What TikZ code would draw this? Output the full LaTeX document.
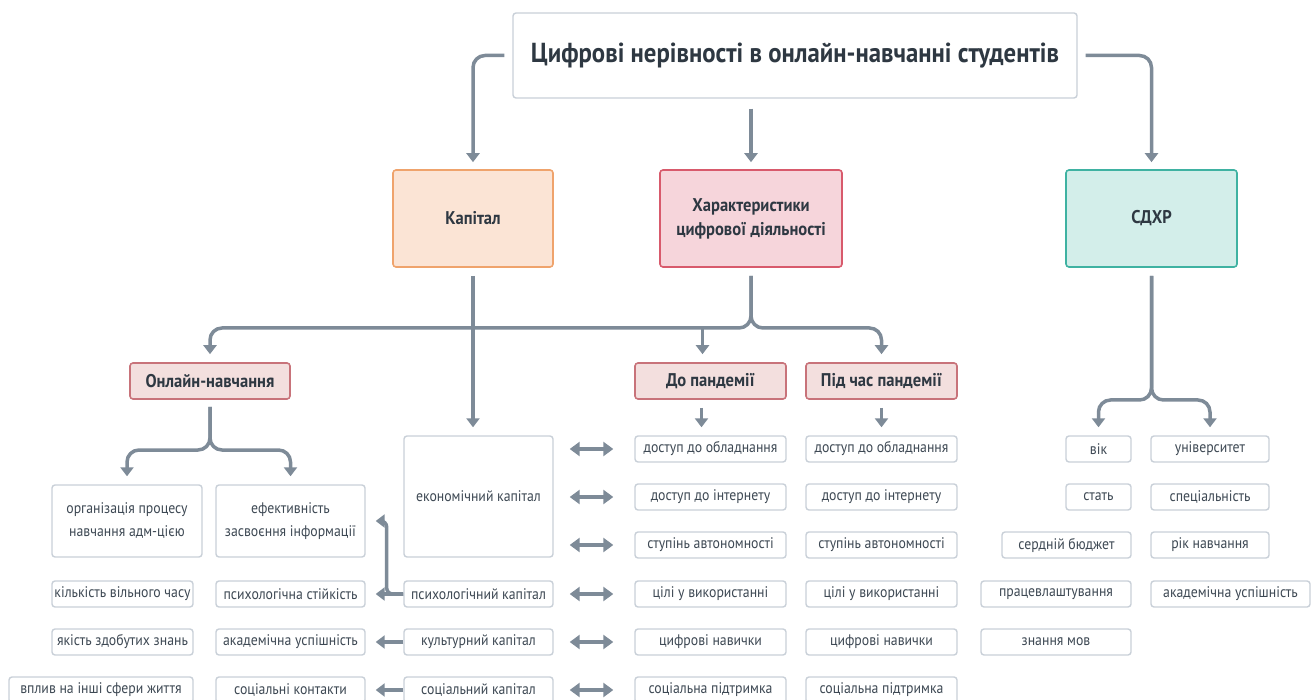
\documentclass[tikz,border=0pt]{standalone}
\usepackage{fontspec}
\setmainfont{PT Sans}[FakeStretch=0.9]
\usetikzlibrary{arrows.meta,calc}
\definecolor{ln}{HTML}{7E8B98}
\definecolor{bd}{HTML}{C9D0D8}
\definecolor{tx}{HTML}{3E4954}
\definecolor{hx}{HTML}{2E3842}
\definecolor{kapf}{HTML}{FBE4D5}
\definecolor{kapd}{HTML}{EFA36C}
\definecolor{charf}{HTML}{F6D5DB}
\definecolor{chard}{HTML}{D85A6C}
\definecolor{sdf}{HTML}{D3EEEA}
\definecolor{sdd}{HTML}{3FB2A2}
\definecolor{subf}{HTML}{F3DFDE}
\definecolor{subd}{HTML}{C8737A}
\tikzset{
  item/.style={draw=bd, line width=1.4pt, rounded corners=3pt, fill=white, inner sep=0pt,
    text=tx, font=\fontsize{15.3}{23}\selectfont, align=center, minimum height=26pt},
  head/.style={line width=1.6pt, rounded corners=3pt, inner sep=0pt, text=hx,
    font=\fontsize{18.4}{24}\selectfont\bfseries, align=center},
  conn/.style={draw=ln, line width=3.5pt, rounded corners=12pt,
    -{Triangle[width=13pt,length=9pt]}},
  dbl/.style={draw=ln, line width=4.2pt,
    {Triangle[width=14pt,length=10pt]}-{Triangle[width=14pt,length=10pt]},
    shorten <=16pt, shorten >=21pt},
}
\begin{document}
\begin{tikzpicture}[x=1pt,y=-1pt]
\useasboundingbox (0,0) rectangle (1312,700);
% title
\node[draw=bd, line width=1.4pt, rounded corners=3pt, fill=white, text=hx,
  minimum width=564pt, minimum height=85pt, inner sep=0pt,
  font=\fontsize{27.5}{30}\selectfont\bfseries] (title) at (795,55.5)
  {Цифрові нерівності в онлайн-навчанні студентів};
% level 2
\node[head, draw=kapd, fill=kapf, minimum width=160pt, minimum height=97pt] (kap) at (473,218.5) {Капітал};
\node[head, draw=chard, fill=charf, minimum width=182pt, minimum height=97pt] (char) at (751,218.5) {Характеристики\\цифрової діяльності};
\node[head, draw=sdd, fill=sdf, minimum width=171pt, minimum height=97pt] (sd) at (1151.5,218.5) {СДХР};
% level 3
\node[head, draw=subd, fill=subf, minimum width=160pt, minimum height=36pt] (onl) at (210,381) {Онлайн-навчання};
\node[head, draw=subd, fill=subf, minimum width=151pt, minimum height=36pt] (dop) at (710.5,381) {До пандемії};
\node[head, draw=subd, fill=subf, minimum width=151pt, minimum height=36pt] (pid) at (881.5,381) {Під час пандемії};
% online children
\node[item, minimum width=150pt, minimum height=72pt] (org) at (127,521) {організація процесу\\навчання адм-цією};
\node[item, minimum width=149pt, minimum height=72pt] (ef) at (290.5,521) {ефективність\\засвоєння інформації};
\node[item, minimum width=141pt] (vil) at (122.5,594) {кількість вільного часу};
\node[item, minimum width=141pt] (yak) at (122.5,642) {якість здобутих знань};
\node[item, minimum width=184pt] (vpl) at (101,690) {вплив на інші сфери життя};
\node[item, minimum width=149pt] (stab) at (290.5,594) {психологічна стійкість};
\node[item, minimum width=149pt] (aku) at (290.5,642) {академічна успішність};
\node[item, minimum width=149pt] (kon) at (290.5,690) {соціальні контакти};
% capitals
\node[item, minimum width=149pt, minimum height=121pt] (eco) at (478.5,496.5) {економічний капітал};
\node[item, minimum width=149pt] (psy) at (478.5,594) {психологічний капітал};
\node[item, minimum width=149pt] (cul) at (478.5,642) {культурний капітал};
\node[item, minimum width=149pt] (soc) at (478.5,690) {соціальний капітал};
% before pandemic
\node[item, minimum width=151pt] (a1) at (710.5,449) {доступ до обладнання};
\node[item, minimum width=151pt] (a2) at (710.5,497) {доступ до інтернету};
\node[item, minimum width=151pt] (a3) at (710.5,545) {ступінь автономності};
\node[item, minimum width=151pt] (a4) at (710.5,594) {цілі у використанні};
\node[item, minimum width=151pt] (a5) at (710.5,642) {цифрові навички};
\node[item, minimum width=151pt] (a6) at (710.5,690) {соціальна підтримка};
% during pandemic
\node[item, minimum width=151pt] (b1) at (881.5,449) {доступ до обладнання};
\node[item, minimum width=151pt] (b2) at (881.5,497) {доступ до інтернету};
\node[item, minimum width=151pt] (b3) at (881.5,545) {ступінь автономності};
\node[item, minimum width=151pt] (b4) at (881.5,594) {цілі у використанні};
\node[item, minimum width=151pt] (b5) at (881.5,642) {цифрові навички};
\node[item, minimum width=151pt] (b6) at (881.5,690) {соціальна підтримка};
% SDXR children
\node[item, minimum width=65pt] (vik) at (1098.5,449) {вік};
\node[item, minimum width=65pt] (stat) at (1098.5,497) {стать};
\node[item, minimum width=129pt] (bud) at (1066.5,545) {сердній бюджет};
\node[item, minimum width=150pt] (pra) at (1056,594) {працевлаштування};
\node[item, minimum width=150pt] (mov) at (1056,642) {знання мов};
\node[item, minimum width=118pt] (uni) at (1210,449) {університет};
\node[item, minimum width=118pt] (spe) at (1210,497) {спеціальність};
\node[item, minimum width=118pt] (rik) at (1210,545) {рік навчання};
\node[item, minimum width=159pt] (aka) at (1230.5,594) {академічна успішність};
% bars
\coordinate (hbar) at (0,328);
\coordinate (obar) at (0,450);
\coordinate (sbar) at (0,400);
% connectors from title
\draw[conn, shorten <=8pt, shorten >=7pt] (title.west) -| (kap.north);
\draw[conn, shorten <=10pt, shorten >=7pt] (title.south -| char.north) -- (char.north);
\draw[conn, shorten <=8pt, shorten >=7pt] (title.east) -| (sd.north);
% capital
\draw[conn, shorten <=8pt, shorten >=8pt] (kap.south) -- (kap.south |- eco.north);
% characteristics
\draw[conn, shorten <=8pt, shorten >=8pt] (char.south) |- (onl.north |- hbar) -- (onl.north);
\draw[conn, shorten <=8pt, shorten >=8pt] (char.south) |- (pid.north |- hbar) -- (pid.north);
\draw[conn, shorten >=8pt] ([xshift=-8pt]dop.north |- hbar) -- ([xshift=-8pt]dop.north);
% online
\draw[conn, shorten <=7pt, shorten >=8pt] (onl.south) |- (org.north |- obar) -- (org.north);
\draw[conn, shorten <=7pt, shorten >=8pt] (onl.south) |- (ef.north |- obar) -- (ef.north);
% pandemic columns
\draw[conn, shorten <=8pt, shorten >=8pt] ([xshift=-9pt]dop.south) -- ([xshift=-9pt]a1.north);
\draw[conn, shorten <=8pt, shorten >=8pt] (pid.south) -- (b1.north);
% sdxr
\draw[conn, shorten <=8pt, shorten >=8pt] (sd.south) |- (vik.north |- sbar) -- (vik.north);
\draw[conn, shorten <=8pt, shorten >=8pt] (sd.south) |- (uni.north |- sbar) -- (uni.north);
% capitals to left
\draw[conn, shorten >=10pt] (psy.west) -- (stab.east);
\draw[conn, rounded corners=6pt, shorten >=10pt] (psy.west) -| ([xshift=21pt]ef.east) -- (ef.east);
\draw[conn, shorten >=10pt] (cul.west) -- (aku.east);
\draw[conn, shorten >=10pt] (soc.west) -- (kon.east);
% double arrows
\draw[dbl] (eco.east |- a1.west) -- (a1.west);
\draw[dbl] (eco.east |- a2.west) -- (a2.west);
\draw[dbl] (eco.east |- a3.west) -- (a3.west);
\draw[dbl] (psy.east) -- (a4.west);
\draw[dbl] (cul.east) -- (a5.west);
\draw[dbl] (soc.east) -- (a6.west);
\end{tikzpicture}
\end{document}
